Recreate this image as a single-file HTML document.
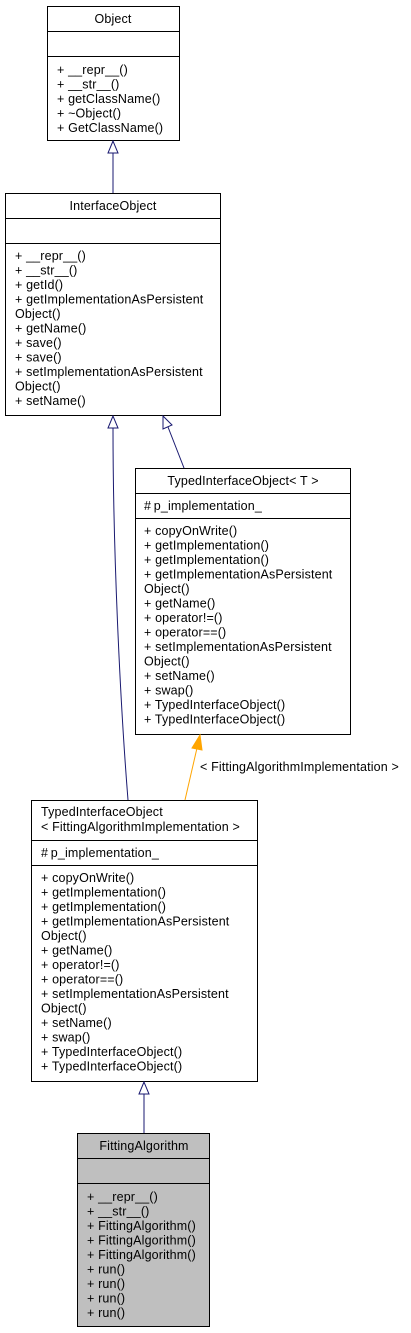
<!DOCTYPE html>
<html><head><meta charset="utf-8"><style>
html,body{margin:0;padding:0;background:#fff;}
svg{display:block;}
text{font-family:"Liberation Sans",sans-serif;font-size:12.5px;letter-spacing:0.15px;fill:#000;}
</style></head><body>
<svg width="411" height="1333" viewBox="0 0 411 1333" xmlns="http://www.w3.org/2000/svg">
<g stroke="#000" stroke-width="1" fill="#fff">
<rect x="47.5" y="6.5" width="132" height="134"/>
<line x1="47.5" y1="31.5" x2="179.5" y2="31.5"/>
<line x1="47.5" y1="56.5" x2="179.5" y2="56.5"/>
<rect x="5.5" y="193.5" width="215" height="222"/>
<line x1="5.5" y1="218.5" x2="220.5" y2="218.5"/>
<line x1="5.5" y1="243.5" x2="220.5" y2="243.5"/>
<rect x="135.5" y="468.5" width="215" height="266"/>
<line x1="135.5" y1="493.5" x2="350.5" y2="493.5"/>
<line x1="135.5" y1="518.5" x2="350.5" y2="518.5"/>
<rect x="31.5" y="800.5" width="226" height="281"/>
<line x1="31.5" y1="840.5" x2="257.5" y2="840.5"/>
<line x1="31.5" y1="865.5" x2="257.5" y2="865.5"/>
<rect x="77.5" y="1133.5" width="132" height="193" fill="#bfbfbf"/>
<line x1="77.5" y1="1158.5" x2="209.5" y2="1158.5"/>
<line x1="77.5" y1="1183.5" x2="209.5" y2="1183.5"/>
</g>
<g stroke="#191970" stroke-width="1" fill="#fff">
<line x1="113" y1="193" x2="113" y2="153"/>
<polygon points="113,141 108,153 118,153"/>
<line x1="184" y1="468" x2="168" y2="427"/>
<polygon points="163,416 163,429 172,425"/>
<path d="M128,800 C120,700 113,550 113,428" fill="none"/>
<polygon points="113,416 108,428 118,428"/>
<line x1="144" y1="1133" x2="144" y2="1094"/>
<polygon points="144,1082 139,1094 149,1094"/>
</g>
<g stroke="#ffa500" stroke-width="1" fill="#ffa500">
<line x1="185" y1="800" x2="197" y2="748"/>
<polygon points="200,735 192,748 202,750"/>
</g>
<text x="200" y="771">&lt; FittingAlgorithmImplementation &gt;</text>
<text x="113" y="23" text-anchor="middle">Object</text>
<text x="57" y="74">+ __repr__()</text>
<text x="57" y="88.5">+ __str__()</text>
<text x="57" y="103">+ getClassName()</text>
<text x="57" y="117.5">+ ~Object()</text>
<text x="57" y="132">+ GetClassName()</text>
<text x="113" y="210" text-anchor="middle">InterfaceObject</text>
<text x="15" y="260">+ __repr__()</text>
<text x="15" y="274.5">+ __str__()</text>
<text x="15" y="289">+ getId()</text>
<text x="15" y="303.5">+ getImplementationAsPersistent</text>
<text x="15" y="318">Object()</text>
<text x="15" y="332.5">+ getName()</text>
<text x="15" y="347">+ save()</text>
<text x="15" y="361.5">+ save()</text>
<text x="15" y="376">+ setImplementationAsPersistent</text>
<text x="15" y="390.5">Object()</text>
<text x="15" y="405">+ setName()</text>
<text x="243" y="485" text-anchor="middle">TypedInterfaceObject&lt; T &gt;</text>
<text x="144" y="510">#&#8201;p_implementation_</text>
<text x="144" y="535">+ copyOnWrite()</text>
<text x="144" y="549.5">+ getImplementation()</text>
<text x="144" y="564">+ getImplementation()</text>
<text x="144" y="578.5">+ getImplementationAsPersistent</text>
<text x="144" y="593">Object()</text>
<text x="144" y="607.5">+ getName()</text>
<text x="144" y="622">+ operator!=()</text>
<text x="144" y="636.5">+ operator==()</text>
<text x="144" y="651">+ setImplementationAsPersistent</text>
<text x="144" y="665.5">Object()</text>
<text x="144" y="680">+ setName()</text>
<text x="144" y="694.5">+ swap()</text>
<text x="144" y="709">+ TypedInterfaceObject()</text>
<text x="144" y="723.5">+ TypedInterfaceObject()</text>
<text x="41" y="816">TypedInterfaceObject</text>
<text x="41" y="831">&lt; FittingAlgorithmImplementation &gt;</text>
<text x="41" y="857">#&#8201;p_implementation_</text>
<text x="41" y="882">+ copyOnWrite()</text>
<text x="41" y="896.5">+ getImplementation()</text>
<text x="41" y="911">+ getImplementation()</text>
<text x="41" y="925.5">+ getImplementationAsPersistent</text>
<text x="41" y="940">Object()</text>
<text x="41" y="954.5">+ getName()</text>
<text x="41" y="969">+ operator!=()</text>
<text x="41" y="983.5">+ operator==()</text>
<text x="41" y="998">+ setImplementationAsPersistent</text>
<text x="41" y="1012.5">Object()</text>
<text x="41" y="1027">+ setName()</text>
<text x="41" y="1041.5">+ swap()</text>
<text x="41" y="1056">+ TypedInterfaceObject()</text>
<text x="41" y="1070.5">+ TypedInterfaceObject()</text>
<text x="144" y="1150" text-anchor="middle">FittingAlgorithm</text>
<text x="87" y="1201">+ __repr__()</text>
<text x="87" y="1215.5">+ __str__()</text>
<text x="87" y="1230">+ FittingAlgorithm()</text>
<text x="87" y="1244.5">+ FittingAlgorithm()</text>
<text x="87" y="1259">+ FittingAlgorithm()</text>
<text x="87" y="1273.5">+ run()</text>
<text x="87" y="1288">+ run()</text>
<text x="87" y="1302.5">+ run()</text>
<text x="87" y="1317">+ run()</text>
</svg>
</body></html>
